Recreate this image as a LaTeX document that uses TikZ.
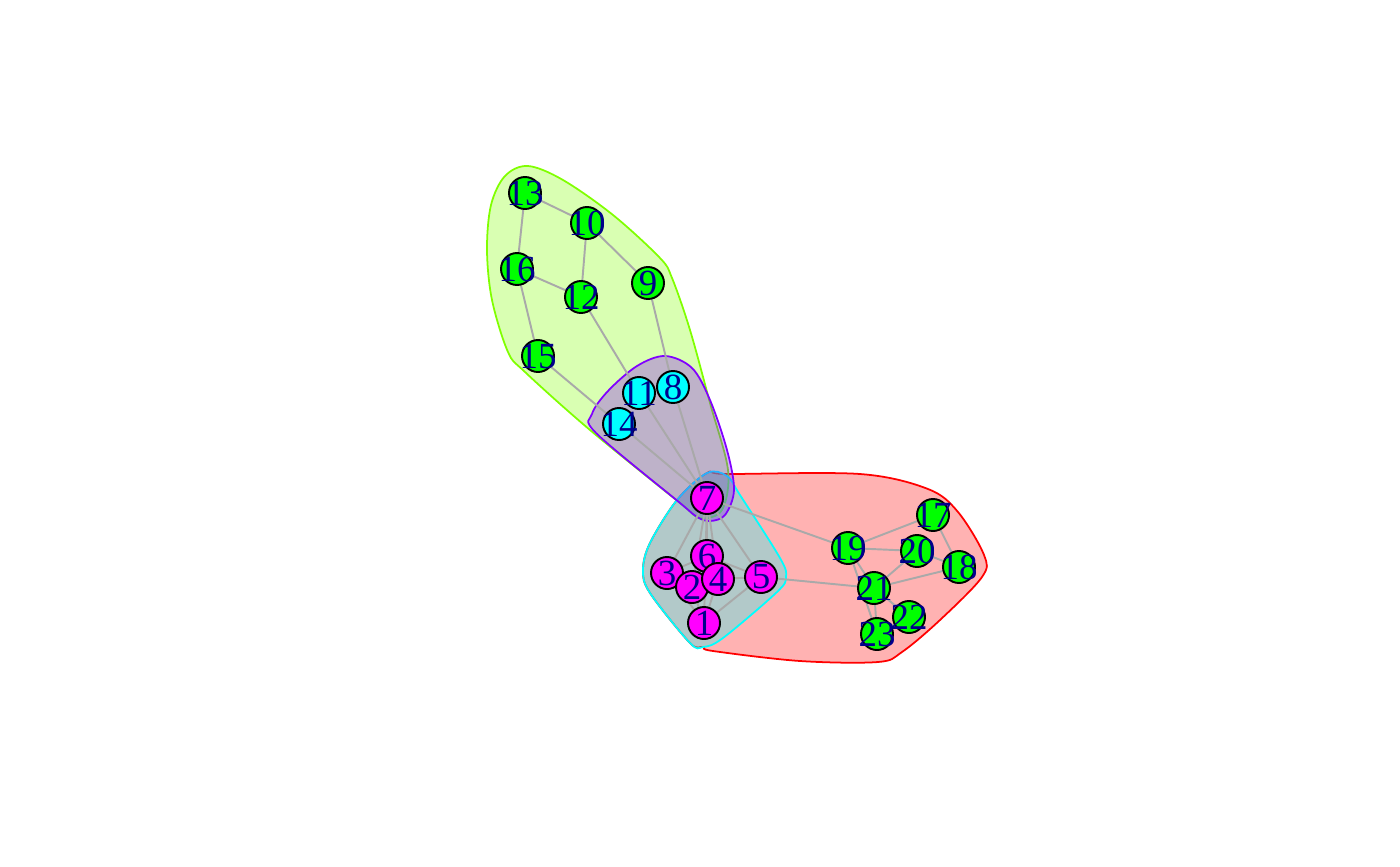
\documentclass[tikz,border=0pt]{standalone}
\usepackage{fontspec}
\setmainfont{Liberation Serif}
\usepackage{xcolor}
\usetikzlibrary{positioning}

\definecolor{hullred}{RGB}{255,0,0}
\definecolor{hullgreen}{RGB}{128,255,0}
\definecolor{hullcyan}{RGB}{0,255,255}
\definecolor{hullviolet}{RGB}{128,0,255}
\definecolor{vgreen}{RGB}{0,255,0}
\definecolor{vcyan}{RGB}{0,255,255}
\definecolor{vmagenta}{RGB}{255,0,255}
\definecolor{labelblue}{RGB}{0,0,139}
\definecolor{linkgray}{RGB}{169,169,169}

\pgfdeclarelayer{hulls}
\pgfdeclarelayer{links}
\pgfsetlayers{hulls,links,main}

\begin{document}
\begin{tikzpicture}[
    x=0.02cm, y=-0.02cm,
    lbl/.style={inner sep=0pt, font=\fontsize{21}{21}\selectfont, text=labelblue},
    vtx/.style 2 args={circle, draw=black, line width=1.1pt, minimum size=0.64cm, inner sep=0pt, fill=#1, label={[lbl]center:#2}},
    lnk/.style={draw=linkgray, line width=1.1pt},
    hull/.style={draw=#1, fill=#1, fill opacity=0.3, line width=1pt},
]
\useasboundingbox (0,0) rectangle (1400,866);
% Upper group
\node[vtx={vgreen}{13}] (v13) at (525,193) {};
\node[vtx={vgreen}{10}] (v10) at (587,223) {};
\node[vtx={vgreen}{16}] (v16) at (517,269) {};
\node[vtx={vgreen}{12}] (v12) at (581,297) {};
\node[vtx={vgreen}{9}] (v9) at (648,283) {};
\node[vtx={vgreen}{15}] (v15) at (538,356) {};
% Bridge group
\node[vtx={vcyan}{11}] (v11) at (639,393) {};
\node[vtx={vcyan}{8}] (v8) at (673,387) {};
\node[vtx={vcyan}{14}] (v14) at (619,424) {};
% Central group
\node[vtx={vmagenta}{7}] (v7) at (707,498) {};
\node[vtx={vmagenta}{6}] (v6) at (707,556) {};
\node[vtx={vmagenta}{3}] (v3) at (667,573) {};
\node[vtx={vmagenta}{2}] (v2) at (692,587) {};
\node[vtx={vmagenta}{4}] (v4) at (718,579) {};
\node[vtx={vmagenta}{5}] (v5) at (761,577) {};
\node[vtx={vmagenta}{1}] (v1) at (704,623) {};
% Right group
\node[vtx={vgreen}{19}] (v19) at (848,548) {};
\node[vtx={vgreen}{17}] (v17) at (933,515) {};
\node[vtx={vgreen}{20}] (v20) at (917,551) {};
\node[vtx={vgreen}{18}] (v18) at (959,567) {};
\node[vtx={vgreen}{21}] (v21) at (874,588) {};
\node[vtx={vgreen}{22}] (v22) at (909,617) {};
\node[vtx={vgreen}{23}] (v23) at (877,634) {};

% Group hulls
\begin{pgfonlayer}{hulls}
\draw[hull=hullred] plot[smooth cycle, tension=0.55] coordinates {
    (707,473) (727,474) (860,474) (928,489) (958,512) (984,555) (982,577)
    (940,620) (902,652) (878,662) (800,661) (713,651) (703,647)
    (690,643) (650,593) (643,570) (650,543) (677,500)};
\draw[hull=hullgreen] plot[smooth cycle, tension=0.55] coordinates {
    (528,166) (563,180) (613,215) (660,258) (672,278) (690,330) (710,403)
    (728,470) (722,510) (700,518) (680,503) (590,430) (525,372) (508,352)
    (492,300) (487,250) (491,205) (505,176)};
\draw[hull=hullcyan] plot[smooth cycle, tension=0.55] coordinates {
    (707,473) (727,476) (740,495) (780,558) (786,577) (777,592) (723,638)
    (703,647) (690,643) (650,593) (643,570) (650,543) (677,500)};
\draw[hull=hullviolet] plot[smooth cycle, tension=0.55] coordinates {
    (665,356) (692,368) (710,400) (727,450) (734,490) (725,515) (710,521)
    (697,517) (680,503) (596,433) (592,414) (608,391) (637,366)};
\end{pgfonlayer}

% Links
\begin{pgfonlayer}{links}
\draw[lnk] (v13) -- (v10);
\draw[lnk] (v13) -- (v16);
\draw[lnk] (v10) -- (v12);
\draw[lnk] (v10) -- (v9);
\draw[lnk] (v16) -- (v12);
\draw[lnk] (v16) -- (v15);
\draw[lnk] (v12) -- (v11);
\draw[lnk] (v9) -- (v8);
\draw[lnk] (v15) -- (v14);
\draw[lnk] (v11) -- (v7);
\draw[lnk] (v8) -- (v7);
\draw[lnk] (v14) -- (v7);
\draw[lnk] (v7) -- (v3);
\draw[lnk] (v7) -- (v6);
\draw[lnk] (v7) -- (v2);
\draw[lnk] (v7) -- (v4);
\draw[lnk] (v7) -- (v1);
\draw[lnk] (v7) -- (v5);
\draw[lnk] (v7) -- (v19);
\draw[lnk] (v3) -- (v6);
\draw[lnk] (v3) -- (v2);
\draw[lnk] (v3) -- (v1);
\draw[lnk] (v6) -- (v4);
\draw[lnk] (v6) -- (v5);
\draw[lnk] (v2) -- (v4);
\draw[lnk] (v4) -- (v5);
\draw[lnk] (v1) -- (v2);
\draw[lnk] (v1) -- (v4);
\draw[lnk] (v1) -- (v5);
\draw[lnk] (v5) -- (v21);
\draw[lnk] (v19) -- (v17);
\draw[lnk] (v19) -- (v20);
\draw[lnk] (v19) -- (v21);
\draw[lnk] (v19) -- (v23);
\draw[lnk] (v17) -- (v18);
\draw[lnk] (v20) -- (v18);
\draw[lnk] (v20) -- (v21);
\draw[lnk] (v21) -- (v18);
\draw[lnk] (v21) -- (v22);
\draw[lnk] (v21) -- (v23);
\draw[lnk] (v23) -- (v22);
\end{pgfonlayer}
\end{tikzpicture}
\end{document}
